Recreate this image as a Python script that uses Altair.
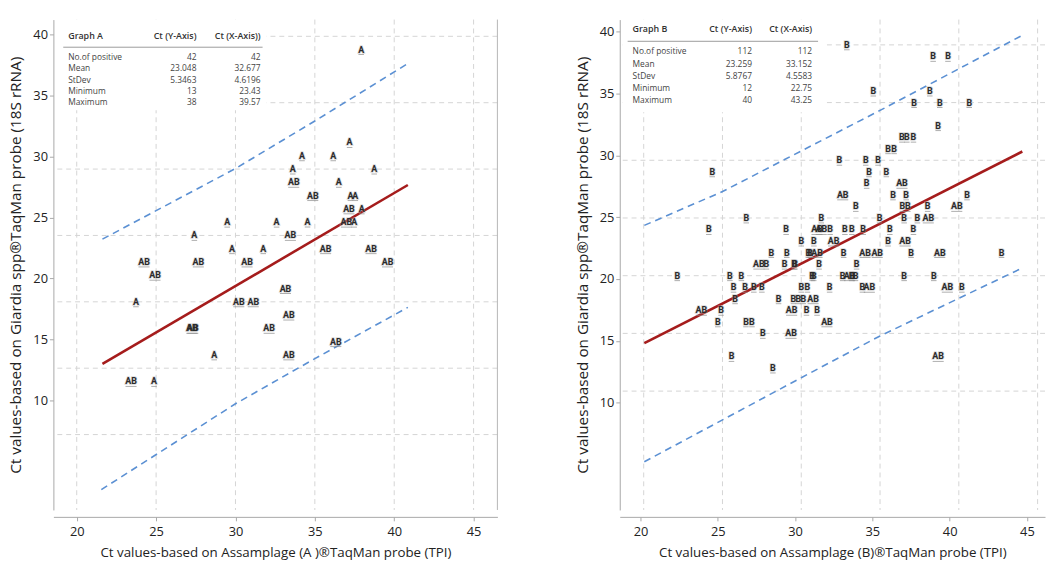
import altair as alt
import pandas as pd

FONT = "Open Sans"
LFONT = "Roboto"

# ---------------- Graph A (left panel) ----------------
a_x = [37.92, 37.19, 34.19, 36.16, 33.61, 38.74, 33.67, 36.51, 34.87, 37.24, 37.55, 37.15, 37.96,
       32.59, 29.48, 34.54, 36.99, 37.48, 27.41, 33.46, 29.78, 31.75, 35.68, 38.54, 24.24, 27.66,
       30.73, 39.58, 24.93, 33.15, 23.73, 30.21, 31.12, 33.36, 27.31, 27.25, 32.12, 36.32, 28.66,
       33.36, 23.42, 24.87]
a_y = [38, 31, 30, 30, 29, 29, 28, 28, 27, 27, 27, 26, 26,
       25, 25, 25, 25, 25, 24, 24, 23, 23, 23, 23, 22, 22,
       22, 22, 21, 20, 19, 19, 19, 18, 17, 17, 17, 16, 15,
       15, 13, 13]
a_lab = ["A", "A", "A", "A", "A", "A", "AB", "A", "AB", "A", "A", "AB", "A",
         "A", "A", "A", "AB", "A", "A", "AB", "A", "A", "AB", "AB", "AB", "AB",
         "AB", "AB", "AB", "AB", "A", "AB", "AB", "AB", "AB", "AB", "AB", "AB", "A",
         "AB", "AB", "A"]

a_fit_x = [21.62, 40.86]
a_fit_y = [15.32, 28.80]
a_up_x = [21.62, 30.0, 35.0, 40.86]
a_up_y = [24.72, 30.04, 33.62, 37.95]
a_lo_x = [21.55, 30.0, 35.0, 40.86]
a_lo_y = [5.85, 12.32, 15.72, 19.58]

a_hdr = ["Graph A", "Ct (Y-Axis)", "Ct (X-Axis))"]
a_ycol = ["42", "23.048", "5.3463", "13", "38"]
a_xcol = ["42", "32.677", "4.6196", "23.43", "39.57"]

# ---------------- Graph B (right panel) ----------------
b_x = [33.44,
       38.92, 39.86,
       35.12, 38.71,
       37.71, 39.34, 41.21,
       39.24,
       36.94, 37.25, 37.67,
       36.06, 36.44,
       32.97, 34.64, 35.42,
       24.90, 34.85, 35.95,
       34.70, 36.94,
       33.18, 36.37, 37.21, 41.07,
       34.01, 36.97, 37.31, 38.57, 40.42,
       27.06, 31.82, 35.52, 37.08, 37.92, 38.61,
       24.68, 29.59, 31.82, 32.38, 33.32, 33.76, 34.48, 36.17, 37.67, 31.55,
       30.55, 31.35, 32.60, 36.06, 37.14,
       28.65, 29.63, 31.11, 31.55, 33.24, 34.60, 35.37, 37.52, 39.34, 43.26, 31.00,
       27.86, 28.34, 29.49, 30.09, 31.68, 34.06, 30.15,
       22.68, 26.02, 26.75, 31.24, 33.18, 33.62, 33.99, 37.08, 38.96, 31.34, 33.75,
       26.25, 26.98, 27.54, 28.05, 30.55, 30.94, 32.35, 34.43, 34.87, 39.82, 40.74,
       26.35, 29.11, 30.05, 30.36, 30.68, 31.30,
       24.21, 25.46, 29.94, 30.88, 31.55,
       25.25, 27.04, 27.42, 32.18,
       28.11, 29.90,
       26.12, 39.24,
       28.75]
b_y = [40,
       39, 39,
       36, 36,
       35, 35, 35,
       33,
       32, 32, 32,
       31, 31,
       30, 30, 30,
       29, 29, 29,
       28, 28,
       27, 27, 27, 27,
       26, 26, 26, 26, 26,
       25, 25, 25, 25, 25, 25,
       24, 24, 24, 24, 24, 24, 24, 24, 24, 24,
       23, 23, 23, 23, 23,
       22, 22, 22, 22, 22, 22, 22, 22, 22, 22, 22,
       21, 21, 21, 21, 21, 21, 21,
       20, 20, 20, 20, 20, 20, 20, 20, 20, 20, 20,
       19, 19, 19, 19, 19, 19, 19, 19, 19, 19, 19,
       18, 18, 18, 18, 18, 18,
       17, 17, 17, 17, 17,
       16, 16, 16, 16,
       15, 15,
       13, 13,
       12]
b_lab = ["B",
         "B", "B",
         "B", "B",
         "B", "B", "B",
         "B",
         "B", "B", "B",
         "B", "B",
         "B", "B", "B",
         "B", "B", "B",
         "B", "AB",
         "AB", "B", "B", "B",
         "B", "B", "B", "B", "AB",
         "B", "B", "B", "B", "B", "AB",
         "B", "B", "AB", "B", "B", "B", "B", "B", "B", "AB",
         "B", "B", "AB", "B", "AB",
         "B", "B", "B", "AB", "B", "AB", "AB", "B", "AB", "B", "B",
         "AB", "B", "B", "B", "B", "B", "B",
         "B", "B", "B", "B", "B", "AB", "B", "B", "B", "B", "B",
         "B", "B", "B", "B", "B", "B", "B", "B", "AB", "AB", "B",
         "B", "B", "B", "B", "B", "AB",
         "AB", "B", "AB", "B", "B",
         "B", "B", "B", "AB",
         "B", "AB",
         "B", "AB",
         "B"]

b_fit_x = [20.04, 44.03]
b_fit_y = [14.15, 30.76]
b_up_x = [20.04, 25.0, 35.0, 44.03]
b_up_y = [24.36, 27.29, 34.32, 40.83]
b_lo_x = [20.04, 30.0, 35.0, 44.03]
b_lo_y = [3.88, 11.16, 14.78, 20.67]

b_hdr = ["Graph B", "Ct (Y-Axis)", "Ct (X-Axis)"]
b_ycol = ["112", "23.259", "5.8767", "12", "40"]
b_xcol = ["112", "33.152", "4.5583", "22.75", "43.25"]

row_names = ["No.of positive", "Mean", "StDev", "Minimum", "Maximum"]
tick_vals = [20, 25, 30, 35, 40, 45]
ytick_vals = [10, 15, 20, 25, 30, 35, 40]
y_title = "Ct values-based on Giardia spp\u00aeTaqMan probe (18S rRNA)"
a_xtitle = "Ct values-based on Assamplage (A )\u00aeTaqMan probe (TPI)"
b_xtitle = "Ct values-based on Assamplage (B)\u00aeTaqMan probe (TPI)"

H = 497


def panel(px, py, plab, dx, dy, fit, up, lo, hdr, ycol, xcol, xtitle,
          xdom, ydom, xldom, yldom, ygrid, tab, W, frame):
    xs = alt.Scale(domain=xdom, nice=False, zero=False)
    ys = alt.Scale(domain=ydom, nice=False, zero=False)
    layers = []
    gstyle = dict(color="#d4d4d4", strokeDash=[5, 4], strokeWidth=1)
    layers.append(alt.Chart(pd.DataFrame({"g": tick_vals})).mark_rule(**gstyle).encode(
        x=alt.X("g:Q", scale=xs, axis=None)))
    layers.append(alt.Chart(pd.DataFrame({"g": ygrid})).mark_rule(**gstyle).encode(
        y=alt.Y("g:Q", scale=ys, axis=None)))
    # table background
    layers.append(alt.Chart(pd.DataFrame({"k": [0]})).mark_rect(color="white").encode(
        x=alt.value(tab["x0"]), x2=alt.value(tab["x1"]),
        y=alt.value(tab["y0"]), y2=alt.value(tab["y1"])))

    def line(xy, **kw):
        return alt.Chart(pd.DataFrame({"x": xy[0], "y": xy[1]})).mark_line(**kw).encode(
            x=alt.X("x:Q", scale=xs, axis=None), y=alt.Y("y:Q", scale=ys, axis=None))

    layers.append(line(up, color="#5b90d3", strokeDash=[7, 5], strokeWidth=1.6))
    layers.append(line(lo, color="#5b90d3", strokeDash=[7, 5], strokeWidth=1.6))
    layers.append(line(fit, color="#a51c1c", strokeWidth=2.6))

    df = pd.DataFrame({"x": px, "y": py, "lab": plab})
    base = alt.Chart(df).transform_calculate(
        lx=f"datum.x + ({dx})", ly=f"datum.y + ({dy})", ulen="length(datum.lab) * 5.6")
    enc = dict(x=alt.X("lx:Q", scale=xs, axis=None), y=alt.Y("ly:Q", scale=ys, axis=None))
    layers.append(base.mark_text(font=LFONT, fontSize=9, fontWeight="bold", color="#9a9a9a",
                                 stroke="#b0b0b0", strokeWidth=1.6, opacity=0.45).encode(text="lab:N", **enc))
    layers.append(base.mark_tick(orient="horizontal", thickness=1, color="#8a8a8a", yOffset=5).encode(
        size=alt.Size("ulen:Q", scale=None), **enc))
    layers.append(base.mark_text(font=LFONT, fontSize=9, fontWeight="bold", color="#2a2a2a").encode(
        text="lab:N", **enc))

    # stats table
    tdf = pd.DataFrame({"row": list(range(5)), "name": row_names, "yv": ycol, "xv": xcol})
    tb = alt.Chart(tdf).transform_calculate(py=f"{tab['r0']} + datum.row * {tab['step']}")
    ty = alt.Y("py:Q", scale=None, axis=None)
    tstyle = dict(font=FONT, fontSize=tab["fs"], color="#444", baseline="middle")
    layers.append(tb.mark_text(align="left", **tstyle).encode(x=alt.value(tab["c0"]), y=ty, text="name:N"))
    layers.append(tb.mark_text(align="right", **tstyle).encode(x=alt.value(tab["c1"]), y=ty, text="yv:N"))
    layers.append(tb.mark_text(align="right", **tstyle).encode(x=alt.value(tab["c2"]), y=ty, text="xv:N"))
    hdf = pd.DataFrame({"col": [0, 1, 2], "h": hdr})
    hstyle = dict(font=FONT, fontSize=tab["fs"] + 0.5, fontWeight=600, color="#333", baseline="middle")
    for ci, (al, cx) in enumerate([("left", tab["c0"]), ("right", tab["c1"]), ("right", tab["c2"])]):
        layers.append(alt.Chart(hdf).transform_filter(f"datum.col == {ci}").mark_text(align=al, **hstyle).encode(
            x=alt.value(cx), y=alt.value(tab["hy"]), text="h:N"))
    layers.append(alt.Chart(pd.DataFrame({"k": [0]})).mark_rule(color="#9a9a9a", strokeWidth=1).encode(
        x=alt.value(tab["lx0"]), x2=alt.value(tab["lx1"]), y=alt.value(tab["ly"])))

    if frame:
        layers.append(alt.Chart(pd.DataFrame({"k": [0]})).mark_rule(color="#b5b5b5", strokeWidth=1).encode(
            x=alt.value(W), y=alt.value(0), y2=alt.value(H)))

    # axes (labels carried by their own scales)
    layers.append(alt.Chart(pd.DataFrame({"v": ytick_vals})).mark_point(opacity=0).encode(
        y=alt.Y("v:Q", scale=alt.Scale(domain=yldom, nice=False, zero=False),
                axis=alt.Axis(orient="left", values=ytick_vals, title=y_title, titlePadding=9,
                              titleFontSize=15.5, labelPadding=2)),
        x=alt.value(0)))
    layers.append(alt.Chart(pd.DataFrame({"v": tick_vals})).mark_point(opacity=0).encode(
        x=alt.X("v:Q", scale=alt.Scale(domain=xldom, nice=False, zero=False),
                axis=alt.Axis(orient="bottom", values=tick_vals, title=xtitle, offset=7,
                              titlePadding=7, titleFontSize=13.5, labelPadding=5)),
        y=alt.value(H)))
    return alt.layer(*layers).resolve_scale(x="independent", y="independent").properties(width=W, height=H)


left = panel(a_x, a_y, a_lab, 0, 1, (a_fit_x, a_fit_y), (a_up_x, a_up_y), (a_lo_x, a_lo_y),
             a_hdr, a_ycol, a_xcol, a_xtitle,
             xdom=[18.53, 46.5], ydom=[4.32, 41.26], xldom=[18.53, 46.5], yldom=[1.05, 41.21],
             ygrid=[10, 15, 20, 25, 30, 35, 40],
             tab=dict(x0=2, x1=216, y0=0, y1=92, c0=15, c1=145, c2=210, hy=17, r0=38, step=11.4,
                      lx0=10, lx1=212, ly=28, fs=8.5),
             W=450, frame=True)

right = panel(b_x, b_y, b_lab, -0.55, 0, (b_fit_x, b_fit_y), (b_up_x, b_up_y), (b_lo_x, b_lo_y),
              b_hdr, b_ycol, b_xcol, b_xtitle,
              xdom=[18.48, 45.47], ydom=[-0.30, 42.19], xldom=[18.66, 46.17], yldom=[1.32, 40.98],
              ygrid=[10, 15, 20, 25, 30, 35, 40],
              tab=dict(x0=3, x1=206, y0=0, y1=94, c0=13, c1=134, c2=195, hy=10, r0=32.3, step=12.4,
                       lx0=8, lx1=201, ly=22, fs=8.5),
              W=431, frame=False)

chart = alt.hconcat(left, right, spacing=78).configure(
    padding={"left": 1, "top": 7, "right": 0, "bottom": 0}
).configure_view(stroke=None).configure_axis(
    labelFont=FONT, titleFont=FONT, labelFontSize=13, labelColor="#222", titleColor="#222",
    titleFontWeight="normal", domainColor="#a8a8a8", tickColor="#a8a8a8", tickSize=4, grid=False
)

chart.save("out.html", embed_options={"renderer": "svg", "actions": False})
